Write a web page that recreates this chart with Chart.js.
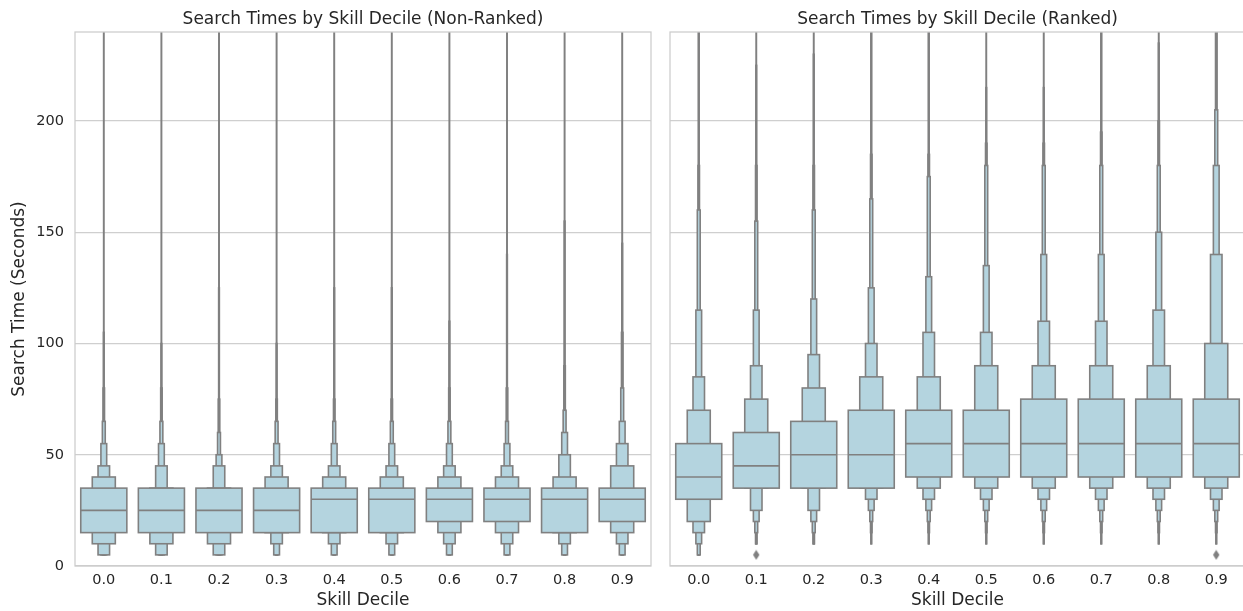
<!DOCTYPE html>
<html><head><meta charset="utf-8">
<script src="https://cdn.jsdelivr.net/npm/chart.js@4.4.1/dist/chart.umd.min.js"></script>
<style>
html,body{margin:0;padding:0;background:#fff;overflow:hidden;width:1243px;height:611px;position:relative;}
#wrapL{position:absolute;left:0;top:0;width:660px;height:611px;}
#wrapR{position:absolute;left:660px;top:0;width:590px;height:611px;}
canvas{display:block;}
</style></head><body>
<div id="wrapL"><canvas id="cL" width="660" height="611"></canvas></div>
<div id="wrapR"><canvas id="cR" width="590" height="611"></canvas></div>
<script>
// ---------------- data ----------------
const deciles = ['0.0','0.1','0.2','0.3','0.4','0.5','0.6','0.7','0.8','0.9'];
const yTicks = [0, 50, 100, 150, 200];
const titleNonRanked = 'Search Times by Skill Decile (Non-Ranked)';
const titleRanked = 'Search Times by Skill Decile (Ranked)';
const xLabel = 'Skill Decile';
const yLabel = 'Search Time (Seconds)';

// Non-ranked letter-value boxes: [low, high] per decile, box 1 = IQR (innermost), higher = outer
const nrMedian = [25,25,25,25,30,30,30,30,30,30];
const nrBox1 = [[15,35],[15,35],[15,35],[15,35],[15,35],[15,35],[20,35],[20,35],[15,35],[20,35]];
const nrBox2 = [[10,40],[10,35],[10,35],[15,40],[15,40],[15,40],[15,40],[15,40],[15,40],[15,45]];
const nrBox3 = [[5,45],[5,45],[5,45],[10,45],[10,45],[10,45],[10,45],[10,45],[10,50],[10,55]];
const nrBox4 = [[5,55],[5,55],[5,50],[5,55],[5,55],[5,55],[5,55],[5,55],[5,60],[5,65]];
const nrBox5 = [[5,65],[5,65],[5,60],[5,65],[5,65],[5,65],[5,65],[5,65],[5,70],[5,80]];
const nrBox6 = [[5,80],[5,80],[5,75],[5,75],[5,75],[5,75],[5,80],[5,80],[5,90],[5,105]];
const nrBox7 = [[5,105],[5,100],[5,125],[5,100],[5,125],[5,125],[5,110],[5,140],[5,155],[5,145]];
const nrBox8 = [[5,400],[5,400],[5,400],[5,400],[5,400],[5,400],[5,400],[5,400],[5,400],[5,400]];
const nrOutliers = [null,null,null,null,null,null,null,null,null,null];

// Ranked
const rMedian = [40,45,50,50,55,55,55,55,55,55];
const rBox1 = [[30,55],[35,60],[35,65],[35,70],[40,70],[40,70],[40,75],[40,75],[40,75],[40,75]];
const rBox2 = [[20,70],[35,75],[35,80],[35,85],[35,85],[35,90],[35,90],[35,90],[35,90],[35,100]];
const rBox3 = [[15,85],[25,90],[25,95],[30,100],[30,105],[30,105],[30,110],[30,110],[30,115],[30,140]];
const rBox4 = [[10,115],[20,115],[20,120],[25,125],[25,130],[25,135],[25,140],[25,140],[25,150],[25,180]];
const rBox5 = [[5,160],[15,155],[15,160],[20,165],[20,175],[20,180],[20,180],[20,180],[20,180],[20,205]];
const rBox6 = [[5,180],[10,180],[10,180],[15,185],[15,185],[15,190],[15,190],[15,195],[15,200],[15,400]];
const rBox7 = [[5,400],[10,225],[10,230],[10,400],[10,400],[10,215],[10,215],[10,400],[10,235],[10,400]];
const rBox8 = [[5,400],[10,400],[10,400],[10,400],[10,400],[10,400],[10,400],[10,400],[10,400],[10,400]];
const rOutliers = [null,5,null,null,null,null,null,null,null,5];

// ---------------- style ----------------
const FILL = 'rgb(180,212,223)';
const EDGE = 'rgb(128,128,128)';
const TEXT = '#262626';
const GRID = '#cfcfcf';
const FONT = 'DejaVu Sans';

// thin diamond marker
const diamond = document.createElement('canvas');
diamond.width = 8; diamond.height = 11;
(function(){
  const c = diamond.getContext('2d');
  c.fillStyle = EDGE; c.beginPath();
  c.moveTo(4,0.5); c.lineTo(7.2,5.5); c.lineTo(4,10.5); c.lineTo(0.8,5.5); c.closePath(); c.fill();
})();

const lvPlugin = {
  id: 'lvOutline',
  afterDatasetDraw(chart, args, opts) {
    const meta = args.meta;
    if (meta.type !== 'bar') return;
    const ctx = chart.ctx, a = chart.chartArea;
    ctx.save();
    ctx.beginPath(); ctx.rect(a.left, a.top, a.right - a.left, a.bottom - a.top); ctx.clip();
    ctx.strokeStyle = EDGE; ctx.lineWidth = 1.6; ctx.lineJoin = 'miter';
    const ys = chart.scales.y;
    meta.data.forEach((el, j) => {
      const p = el.getProps(['x','y','base','width'], true);
      const top = Math.min(p.y, p.base), h = Math.abs(p.base - p.y);
      ctx.strokeRect(p.x - p.width/2, top, p.width, h);
      if (args.index === 0 && opts.medians) {
        const my = ys.getPixelForValue(opts.medians[j]);
        ctx.beginPath(); ctx.moveTo(p.x - p.width/2, my); ctx.lineTo(p.x + p.width/2, my); ctx.stroke();
      }
    });
    ctx.restore();
  },
  afterDatasetsDraw(chart) {
    const ctx = chart.ctx, a = chart.chartArea;
    ctx.save();
    ctx.strokeStyle = '#cccccc'; ctx.lineWidth = 1.25;
    ctx.strokeRect(a.left, a.top, a.right - a.left, a.bottom - a.top);
    ctx.restore();
  },
  afterDraw(chart, args, opts) {
    const ctx = chart.ctx, a = chart.chartArea;
    ctx.save();
    ctx.fillStyle = TEXT; ctx.font = '17px "' + FONT + '"';
    ctx.textAlign = 'center'; ctx.textBaseline = 'middle';
    ctx.fillText(opts.title, (a.left + a.right) / 2, 20);
    ctx.restore();
  }
};

function makePanel(id, title, boxes, medians, outliers, isLeft) {
  const datasets = boxes.map((b, i) => ({
    type: 'bar', data: b, backgroundColor: FILL, borderWidth: 0,
    barPercentage: 0.8 / Math.pow(2, i), categoryPercentage: 1,
    grouped: false, inflateAmount: 0, clip: 0
  }));
  datasets.push({
    type: 'line', data: outliers, showLine: false, pointStyle: diamond,
    pointRadius: 4, pointHoverRadius: 4, order: -1, clip: 0
  });
  return new Chart(document.getElementById(id), {
    data: { labels: deciles, datasets },
    plugins: [lvPlugin],
    options: {
      responsive: false, animation: false, events: [],
      layout: { padding: { left: 0, right: isLeft ? 9 : 3.5, top: 32, bottom: 0 } },
      plugins: {
        legend: { display: false }, tooltip: { enabled: false },
        title: { display: false },
        lvOutline: { medians, title }
      },
      scales: {
        x: {
          type: 'category', offset: true,
          grid: { display: false, drawTicks: false },
          border: { display: false },
          ticks: { color: TEXT, font: { family: FONT, size: 14.5 }, padding: 6, maxRotation: 0 },
          title: { display: true, text: xLabel, color: TEXT, font: { family: FONT, size: 17 }, padding: { top: 0, bottom: 0 } },
          afterFit(s) { s.height = 45; }
        },
        y: {
          min: 0, max: 240,
          afterBuildTicks(s) { s.ticks = yTicks.map(v => ({ value: v })); },
          grid: { color: GRID, lineWidth: 1.2, drawTicks: false },
          border: { display: false },
          ticks: { display: isLeft, color: TEXT, font: { family: FONT, size: 14.5 }, padding: 11 },
          title: { display: isLeft, text: yLabel, color: TEXT, font: { family: FONT, size: 17 }, padding: { top: 9 } },
          afterFit(s) { s.width = isLeft ? 75 : 10; }
        }
      }
    }
  });
}

makePanel('cL', titleNonRanked, [nrBox1,nrBox2,nrBox3,nrBox4,nrBox5,nrBox6,nrBox7,nrBox8], nrMedian, nrOutliers, true);
makePanel('cR', titleRanked, [rBox1,rBox2,rBox3,rBox4,rBox5,rBox6,rBox7,rBox8], rMedian, rOutliers, false);
</script>
</body></html>
